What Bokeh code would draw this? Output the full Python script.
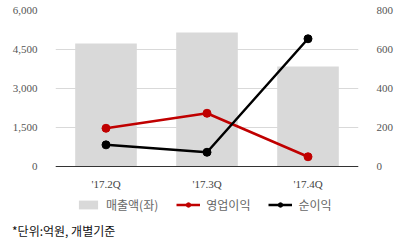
from bokeh.plotting import figure
from bokeh.models import (Range1d, LinearAxis, FixedTicker, NumeralTickFormatter,
                          Legend, LegendItem, Div, Span, ColumnDataSource)
from bokeh.core.properties import value
from bokeh.layouts import column
from bokeh.embed import file_html
from bokeh.resources import INLINE

quarters = ["'17.2Q", "'17.3Q", "'17.4Q"]
sales = [4730, 5150, 3850]          # 매출액 (left axis)
op_profit = [196, 273, 50]          # 영업이익 (right axis)
net_profit = [111, 73, 655]         # 순이익 (right axis)
left_ticks = [0, 1500, 3000, 4500, 6000]
right_ticks = [0, 200, 400, 600, 800]

src = ColumnDataSource(dict(q=quarters, sales=sales, op=op_profit, net=net_profit,
                            base=[0] * len(quarters)))

TICK_FONT = "Liberation Serif"
KR_FONT = "Noto Sans CJK KR"

# frame: top 10px, zero line at 166px, frame bottom at 222px (room for legend)
LEFT_MAX, RIGHT_MAX = 6000, 800
below_frac = (222 - 166) / (166 - 10)

p = figure(width=414, height=222, x_range=quarters,
           y_range=Range1d(-LEFT_MAX * below_frac, LEFT_MAX),
           output_backend="svg", toolbar_location=None,
           min_border_left=55, min_border_right=56, min_border_top=10, min_border_bottom=0)
p.x_range.range_padding = 0
p.outline_line_color = None
p.background_fill_color = "white"
p.border_fill_color = "white"
p.xaxis.visible = False

p.extra_y_ranges = {"right": Range1d(-RIGHT_MAX * below_frac, RIGHT_MAX)}

p.xgrid.grid_line_color = None
p.ygrid.grid_line_color = "#d9d9d9"
p.ygrid.grid_line_width = 1
p.yaxis.ticker = FixedTicker(ticks=left_ticks)
p.yaxis.formatter = NumeralTickFormatter(format="0,0")

ax = p.yaxis[0]
ax.axis_line_color = None
ax.major_tick_line_color = None
ax.minor_tick_line_color = None
ax.major_label_text_font = TICK_FONT
ax.major_label_text_font_size = "11px"
ax.major_label_text_color = "#555555"
ax.major_label_standoff = 12

rax = LinearAxis(y_range_name="right", ticker=FixedTicker(ticks=right_ticks))
rax.axis_line_color = None
rax.major_tick_line_color = None
rax.minor_tick_line_color = None
rax.major_label_text_font = TICK_FONT
rax.major_label_text_font_size = "11px"
rax.major_label_text_color = "#555555"
rax.major_label_standoff = 12
p.add_layout(rax, "right")

bars = p.vbar(x="q", top="sales", bottom="base", width=0.61, source=src,
              fill_color="#d9d9d9", line_color=None)

# category axis: baseline and labels
p.add_layout(Span(location=0, dimension="width", line_color="#333333", line_width=1))
p.text(x="q", y="base", text="q", source=src, text_align="center", text_baseline="top",
       y_offset=11, text_font=value(TICK_FONT), text_font_size="11px",
       text_color="#444444")

rl = p.line(x="q", y="op", source=src, y_range_name="right", line_color="#c00000",
            line_width=2.5)
rs = p.scatter(x="q", y="op", source=src, y_range_name="right", size=8,
               fill_color="#c00000", line_color="#c00000")
bl = p.line(x="q", y="net", source=src, y_range_name="right", line_color="#000000",
            line_width=2.5)
bs = p.scatter(x="q", y="net", source=src, y_range_name="right", size=8,
               fill_color="#000000", line_color="#000000")

legend = Legend(items=[
    LegendItem(label="매출액(좌)", renderers=[bars]),
    LegendItem(label="영업이익", renderers=[rl, rs]),
    LegendItem(label="순이익", renderers=[bl, bs]),
], orientation="horizontal", location=(21, 9))
legend.padding = 0
legend.margin = 0
legend.spacing = 18
legend.glyph_width = 24
legend.glyph_height = 11
legend.label_height = 12
legend.label_standoff = 6
legend.border_line_color = None
legend.background_fill_alpha = 0
legend.label_text_font = KR_FONT
legend.label_text_font_size = "12px"
legend.label_text_color = "#666666"
p.add_layout(legend, "center")

note = Div(text="*단위:억원, 개별기준", width=402, height=18, margin=(0, 0, 0, 12),
           styles={"font-family": KR_FONT, "font-size": "12px", "color": "#111111",
                   "line-height": "18px", "white-space": "nowrap"})

layout = column(p, note, spacing=0)

open("out.html", "w").write(file_html(layout, INLINE))
